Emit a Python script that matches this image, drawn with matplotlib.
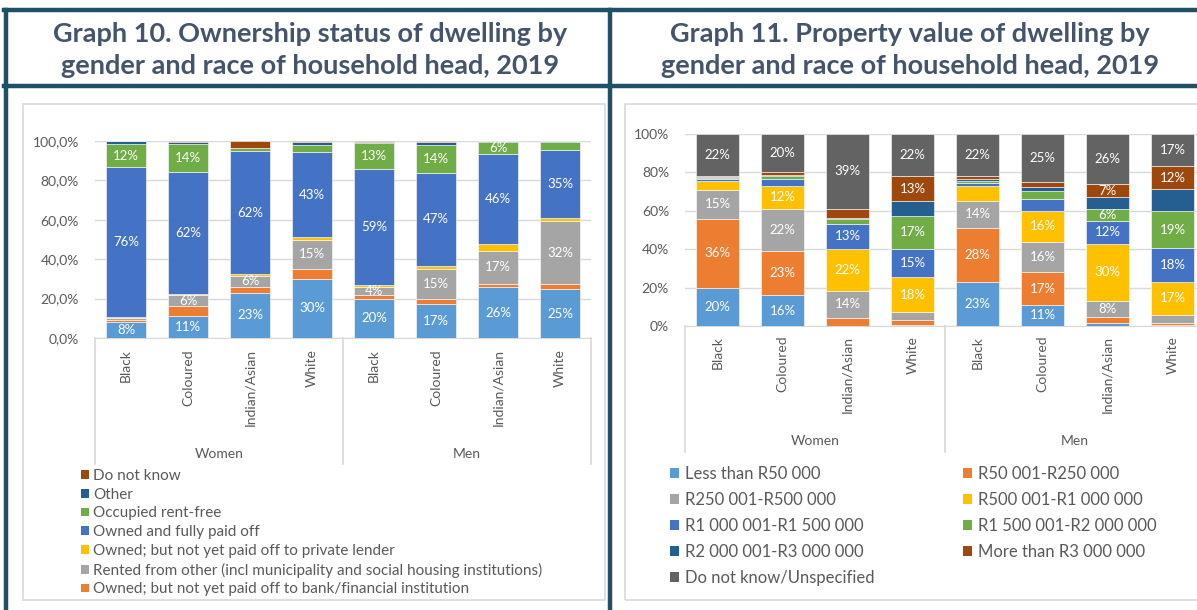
import numpy as np
import matplotlib.pyplot as plt
from matplotlib.patches import Patch, Rectangle
from matplotlib.lines import Line2D
from matplotlib.ticker import FuncFormatter

plt.rcParams['font.family'] = ['Lato', 'DejaVu Sans']

# categories (same for both charts)
races = ["Black", "Coloured", "Indian/Asian", "White"]
genders = ["Women", "Men"]

# Graph 10 - ownership status, % of households (bottom to top of the stack)
own_series = [
    "Rented from private individual",
    "Owned; but not yet paid off to bank/financial institution",
    "Rented from other (incl municipality and social housing institutions)",
    "Owned; but not yet paid off to private lender",
    "Owned and fully paid off",
    "Occupied rent-free",
    "Other",
    "Do not know",
]
own_private_ind = [8, 11, 23, 30, 20, 17, 26, 25]
own_bank = [1.0, 5.0, 2.7, 5.0, 1.7, 2.9, 1.7, 2.7]
own_rented_other = [1.0, 6, 6, 15, 4, 15, 17, 32]
own_private_lender = [0.6, 0.5, 1.0, 1.3, 1.2, 1.7, 3.7, 1.7]
own_paid_off = [76, 62, 62, 43, 59, 47, 46, 35]
own_rent_free = [12, 14, 1.5, 3.9, 13, 14, 6, 3.7]
own_other = [1.2, 1.2, 0.4, 1.5, 0.8, 1.6, 0.3, 0.5]
own_dont_know = [0.2, 0.3, 3.4, 0.3, 0.3, 0.6, 0.2, 0.2]

# Graph 11 - property value, % of households (bottom to top of the stack)
val_series = [
    "Less than R50 000",
    "R50 001-R250 000",
    "R250 001-R500 000",
    "R500 001-R1 000 000",
    "R1 000 001-R1 500 000",
    "R1 500 001-R2 000 000",
    "R2 000 001-R3 000 000",
    "More than R3 000 000",
    "Do not know/Unspecified",
]
val_lt_50k = [20, 16, 0.2, 0.3, 23, 11, 1.4, 0.3]
val_50k_250k = [36, 23, 4, 2.7, 28, 17, 3.5, 1.2]
val_250k_500k = [15, 22, 14, 4.3, 14, 16, 8, 4.5]
val_500k_1m = [4.6, 12, 22, 18, 7.8, 16, 30, 17]
val_1m_15m = [0.9, 3.8, 13, 15, 1.4, 6.4, 12, 18]
val_15m_2m = [0.5, 1.6, 2.5, 17, 1.2, 4, 6, 19]
val_2m_3m = [0.5, 0.3, 0.3, 7.8, 1.0, 2.1, 6.2, 11.5]
val_gt_3m = [0.7, 1.4, 5, 13, 1.4, 2.6, 7, 12]
val_unknown = [22, 20, 39, 22, 22, 25, 26, 17]

# office palette
c_lblue, c_orange, c_gray, c_yellow = '#5B9BD5', '#ED7D31', '#A5A5A5', '#FFC000'
c_blue, c_green, c_dblue, c_brown, c_dgray = '#4472C4', '#70AD47', '#255E91', '#9E480E', '#636363'
own_colors = [c_lblue, c_orange, c_gray, c_yellow, c_blue, c_green, c_dblue, c_brown]
val_colors = [c_lblue, c_orange, c_gray, c_yellow, c_blue, c_green, c_dblue, c_brown, c_dgray]

border = '#1E5067'
title_col = '#44546A'
txt_col = '#595959'
grid_col = '#D9D9D9'

W, H = 1197, 610
fig = plt.figure(figsize=(W / 100, H / 100), dpi=100)


def fx(px):
    return px / W


def fy(py):
    return 1 - py / H


# table frame
for xs, ys in [((4, W), (10, 10)), ((4, W), (86, 86)), ((6, 6), (10, H)), ((610, 610), (10, H))]:
    fig.add_artist(Line2D([fx(x) for x in xs], [fy(y) for y in ys], color=border, lw=3.2))

# chart area boxes
fig.add_artist(Rectangle((fx(23), fy(600)), fx(582), 496 / H, fill=False, ec=grid_col, lw=1.2))
fig.add_artist(Rectangle((fx(625), fy(600)), fx(600), 496 / H, fill=False, ec=grid_col, lw=1.2))

fig.text(fx(310), fy(50), "Graph 10. Ownership status of dwelling by\ngender and race of household head, 2019",
         ha='center', va='center', fontsize=19.5, fontweight='bold', color=title_col, linespacing=1.38)
fig.text(fx(910), fy(50), "Graph 11. Property value of dwelling by\ngender and race of household head, 2019",
         ha='center', va='center', fontsize=19.5, fontweight='bold', color=title_col, linespacing=1.38)


def stacked(ax, data, colors, label_min, skip_series, hidden, fmt, pad_tick, group_y, sep_y):
    data = np.array(data, dtype=float)
    data = data / data.sum(axis=0) * 100
    x = np.arange(data.shape[1])
    bottom = np.zeros(data.shape[1])
    for i, (vals, col) in enumerate(zip(data, colors)):
        bars = ax.bar(x, vals, 0.66, bottom=bottom, color=col, edgecolor='white', linewidth=0.4, zorder=3)
        for j, b in enumerate(bars):
            v = vals[j]
            if v >= label_min and i not in skip_series and (i, j) not in hidden:
                ax.text(b.get_x() + b.get_width() / 2, bottom[j] + v / 2, f"{v:.0f}%",
                        ha='center', va='center', color='white', fontsize=9.5, zorder=4)
        bottom += vals
    ax.set_xlim(-0.5, len(x) - 0.5)
    ax.set_ylim(0, 100)
    ax.set_yticks(range(0, 101, 20))
    ax.yaxis.set_major_formatter(FuncFormatter(fmt))
    ax.grid(axis='y', color=grid_col, lw=1, zorder=0)
    for s in ['top', 'right', 'left']:
        ax.spines[s].set_visible(False)
    ax.spines['bottom'].set_color(grid_col)
    ax.set_xticks(x)
    ax.set_xticklabels(races * len(genders), rotation=90, va='top')
    ax.tick_params(axis='x', length=0, pad=pad_tick, labelsize=10, labelcolor=txt_col)
    ax.tick_params(axis='y', length=0, pad=11.5, labelsize=10, labelcolor=txt_col)
    tr = ax.get_xaxis_transform()
    n = len(races)
    for k in range(len(genders) + 1):
        ax.plot([k * n - 0.5] * 2, [0, sep_y], color=grid_col, lw=1.2, transform=tr, clip_on=False)
    for k, g in enumerate(genders):
        ax.text(k * n + (n - 1) / 2, group_y, g, transform=tr, ha='center', va='center',
                fontsize=10, color=txt_col)


ax1 = fig.add_axes([fx(95), fy(338), 496 / W, 197 / H])
stacked(ax1,
        [own_private_ind, own_bank, own_rented_other, own_private_lender,
         own_paid_off, own_rent_free, own_other, own_dont_know],
        own_colors, 3.95, {1}, set(), lambda v, p: f"{v:.1f}%".replace('.', ','),
        8, -0.59, -0.64)

ax2 = fig.add_axes([fx(685), fy(326), 520 / W, 192 / H])
stacked(ax2,
        [val_lt_50k, val_50k_250k, val_250k_500k, val_500k_1m, val_1m_15m,
         val_15m_2m, val_2m_3m, val_gt_3m, val_unknown],
        val_colors, 5.5, {6}, {(3, 4), (4, 5)}, lambda v, p: f"{v:.0f}%",
        7, -0.6, -0.656)

# legends
own_idx = [7, 6, 5, 4, 3, 2, 1]
fig.legend([Patch(facecolor=own_colors[i]) for i in own_idx], [own_series[i] for i in own_idx],
           loc='upper left', bbox_to_anchor=(fx(81), fy(469)), frameon=False, fontsize=11,
           handlelength=0.5, handleheight=0.5, handletextpad=0.3, labelspacing=0.31,
           borderpad=0, borderaxespad=0, labelcolor=txt_col)

val_idx = [0, 2, 4, 6, 8, 1, 3, 5, 7]
fig.legend([Patch(facecolor=val_colors[i]) for i in val_idx], [val_series[i] for i in val_idx],
           loc='upper left', bbox_to_anchor=(fx(670), fy(466)), ncol=2, frameon=False, fontsize=12,
           handlelength=0.55, handleheight=0.55, handletextpad=0.35, labelspacing=0.6,
           columnspacing=5.3, borderpad=0, borderaxespad=0, labelcolor=txt_col)

fig.savefig('out.png', dpi=100)
